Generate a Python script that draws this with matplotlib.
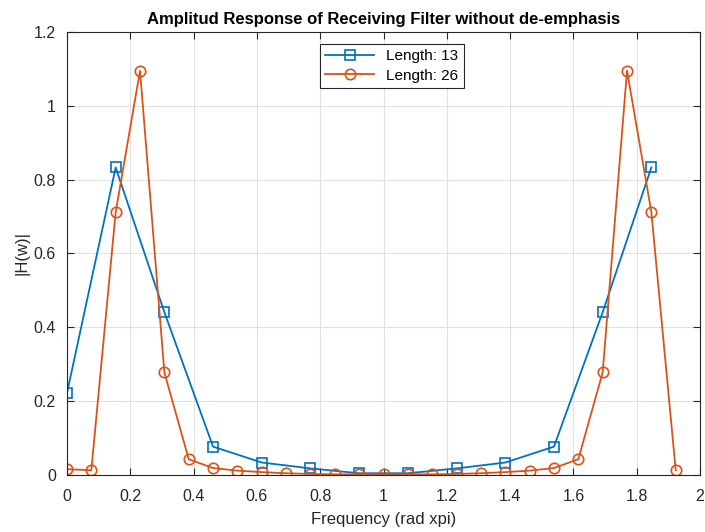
import matplotlib.pyplot as plt

plt.rcParams['font.family'] = ['Liberation Sans', 'DejaVu Sans']

# Length 13 filter response
freq_13 = [0, 2/13, 4/13, 6/13, 8/13, 10/13, 12/13, 14/13, 16/13, 18/13, 20/13, 22/13, 24/13]
mag_13 = [0.222, 0.833, 0.441, 0.077, 0.034, 0.018, 0.005, 0.005, 0.018, 0.034, 0.077, 0.441, 0.833]

# Length 26 filter response
freq_26 = [k / 13 for k in range(26)]
mag_26 = [0.016, 0.013, 0.712, 1.095, 0.278, 0.043, 0.019, 0.012, 0.008, 0.005,
          0.003, 0.002, 0.002, 0.002, 0.002, 0.002, 0.003, 0.005, 0.008, 0.012,
          0.019, 0.043, 0.278, 1.095, 0.712, 0.013]

fig = plt.figure(figsize=(7.05, 5.32), dpi=100)
ax = fig.add_axes([0.095, 0.107, 0.898, 0.833])

ax.plot(freq_13, mag_13, color='#0072BD', marker='s', markersize=6.5, markerfacecolor='none',
        markeredgewidth=1.2, linewidth=1.3, label='Length: 13')
ax.plot(freq_26, mag_26, color='#D95319', marker='o', markersize=7.5, markerfacecolor='none',
        markeredgewidth=1.2, linewidth=1.3, label='Length: 26')

ax.set_xlim(0, 2)
ax.set_ylim(0, 1.2)
ax.set_xticks([0, 0.2, 0.4, 0.6, 0.8, 1, 1.2, 1.4, 1.6, 1.8, 2])
ax.set_xticklabels(['0', '0.2', '0.4', '0.6', '0.8', '1', '1.2', '1.4', '1.6', '1.8', '2'])
ax.set_yticks([0, 0.2, 0.4, 0.6, 0.8, 1, 1.2])
ax.set_yticklabels(['0', '0.2', '0.4', '0.6', '0.8', '1', '1.2'])
ax.tick_params(direction='in', top=True, right=True, labelsize=11.5, colors='#262626', length=5)
ax.tick_params(axis='x', pad=10)
ax.tick_params(axis='y', pad=8)
ax.grid(True, color='#e0e0e0', linewidth=0.8)
ax.set_axisbelow(True)
for s in ax.spines.values():
    s.set_color('#262626')
    s.set_linewidth(0.8)

ax.set_xlabel('Frequency (rad xpi)', fontsize=12, color='#262626', labelpad=6)
ax.set_ylabel('|H(w)|', fontsize=12, color='#262626', labelpad=3)
ax.set_title('Amplitud Response of Receiving Filter without de-emphasis', fontsize=12, fontweight='bold', pad=6)

leg = ax.legend(loc='upper center', bbox_to_anchor=(0.513, 0.99), fontsize=11, fancybox=False,
                edgecolor='#262626', framealpha=1, handlelength=3.2, borderpad=0.35, labelspacing=0.35)
leg.get_frame().set_linewidth(0.8)

plt.savefig('out.png')
